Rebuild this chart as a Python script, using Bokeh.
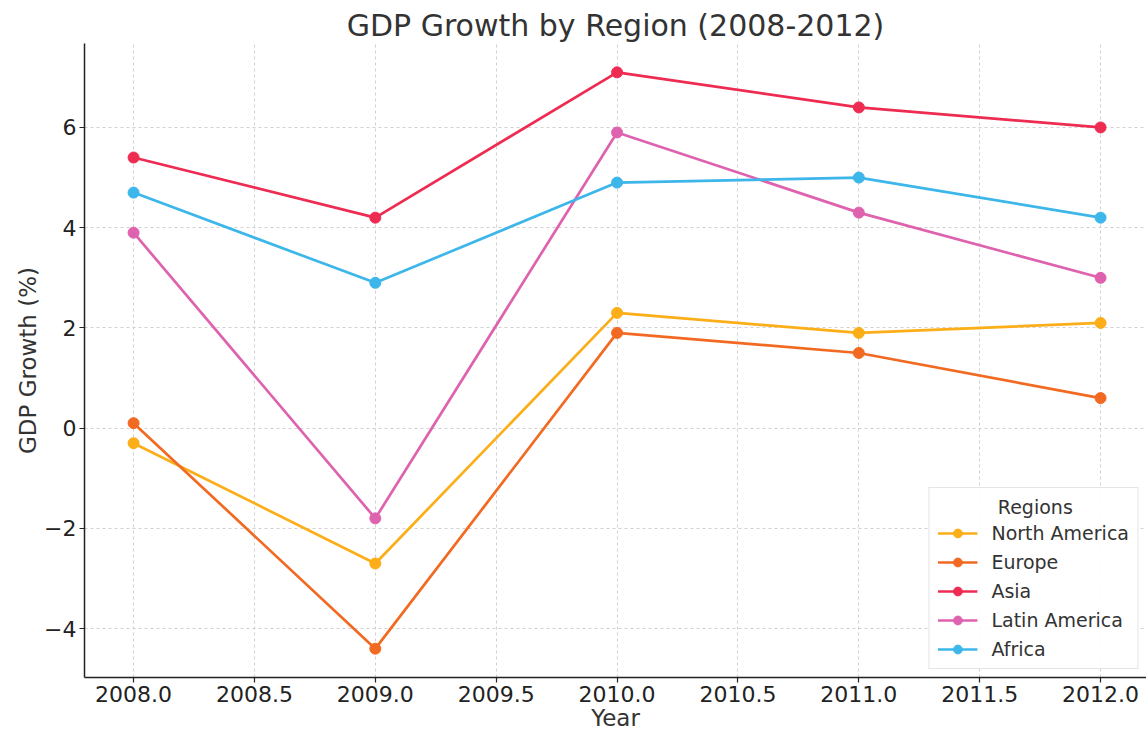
from bokeh.plotting import figure
from bokeh.models import Range1d, FixedTicker, NumeralTickFormatter, CustomJSTickFormatter
from bokeh.embed import file_html
from bokeh.resources import INLINE

years = [2008, 2009, 2010, 2011, 2012]
regions = ["North America", "Europe", "Asia", "Latin America", "Africa"]
north_america = [-0.3, -2.7, 2.3, 1.9, 2.1]
europe = [0.1, -4.4, 1.9, 1.5, 0.6]
asia = [5.4, 4.2, 7.1, 6.4, 6.0]
latin_america = [3.9, -1.8, 5.9, 4.3, 3.0]
africa = [4.7, 2.9, 4.9, 5.0, 4.2]
series = [north_america, europe, asia, latin_america, africa]
colors = ["#FBAE17", "#F26A22", "#EE2C52", "#DE62AE", "#3DB6EA"]
x_ticks = [2008.0, 2008.5, 2009.0, 2009.5, 2010.0, 2010.5, 2011.0, 2011.5, 2012.0]
y_ticks = [-4, -2, 0, 2, 4, 6]

FONT = "DejaVu Sans"

p = figure(width=1146, height=736, output_backend="svg", toolbar_location=None,
           title="GDP Growth by Region (2008-2012)",
           x_range=Range1d(2007.797, 2012.19), y_range=Range1d(-4.975, 7.675),
           min_border_left=84, min_border_right=0, min_border_top=43, min_border_bottom=59)

p.title.align = "center"
p.title.text_font = FONT
p.title.text_font_size = "30px"
p.title.text_font_style = "normal"
p.title.text_color = "#333333"
p.title.standoff = 2

p.outline_line_color = None
p.background_fill_color = "white"

for ax in (p.xaxis[0], p.yaxis[0]):
    ax.axis_line_color = "#222222"
    ax.axis_line_width = 1.5
    ax.major_tick_line_color = "#222222"
    ax.major_tick_line_width = 1.2
    ax.major_tick_out = 5
    ax.major_tick_in = 0
    ax.minor_tick_line_color = None
    ax.major_label_text_font = FONT
    ax.major_label_text_font_size = "22px"
    ax.major_label_text_color = "#222222"
    ax.major_label_standoff = 3
    ax.axis_label_text_font = FONT
    ax.axis_label_text_font_size = "23px"
    ax.axis_label_text_font_style = "normal"
    ax.axis_label_text_color = "#333333"
    ax.axis_label_standoff = 0

p.xaxis.axis_label = "Year"
p.yaxis.axis_label = "GDP Growth (%)"
p.xaxis.ticker = FixedTicker(ticks=x_ticks)
p.yaxis.ticker = FixedTicker(ticks=y_ticks)
p.xaxis.formatter = NumeralTickFormatter(format="0.0")
p.yaxis.formatter = CustomJSTickFormatter(code="return tick < 0 ? '\\u2212' + Math.abs(tick) : String(tick);")

for g in (p.xgrid[0], p.ygrid[0]):
    g.grid_line_color = "#cccccc"
    g.grid_line_dash = "3 3"
    g.grid_line_width = 1
    g.grid_line_alpha = 0.9

for name, vals, c in zip(regions, series, colors):
    p.line(years, vals, line_color=c, line_width=2.7, legend_label=name)
    p.scatter(years, vals, fill_color=c, line_color=c, size=11, legend_label=name)

lg = p.legend[0]
lg.location = "bottom_right"
lg.title = "\u00a0" * 10 + "Regions"
lg.title_text_font = FONT
lg.title_text_font_size = "19px"
lg.title_text_font_style = "normal"
lg.title_text_color = "#333333"
lg.title_standoff = 4
lg.label_text_font = FONT
lg.label_text_font_size = "19px"
lg.label_text_color = "#333333"
lg.label_height = 22
lg.glyph_height = 22
lg.glyph_width = 40
lg.label_standoff = 14
lg.spacing = 7
lg.padding = 8
lg.margin = 8
lg.border_line_color = "#cccccc"
lg.border_line_width = 1
lg.background_fill_color = "white"
lg.background_fill_alpha = 0.9

open("out.html", "w").write(file_html(p, INLINE))
